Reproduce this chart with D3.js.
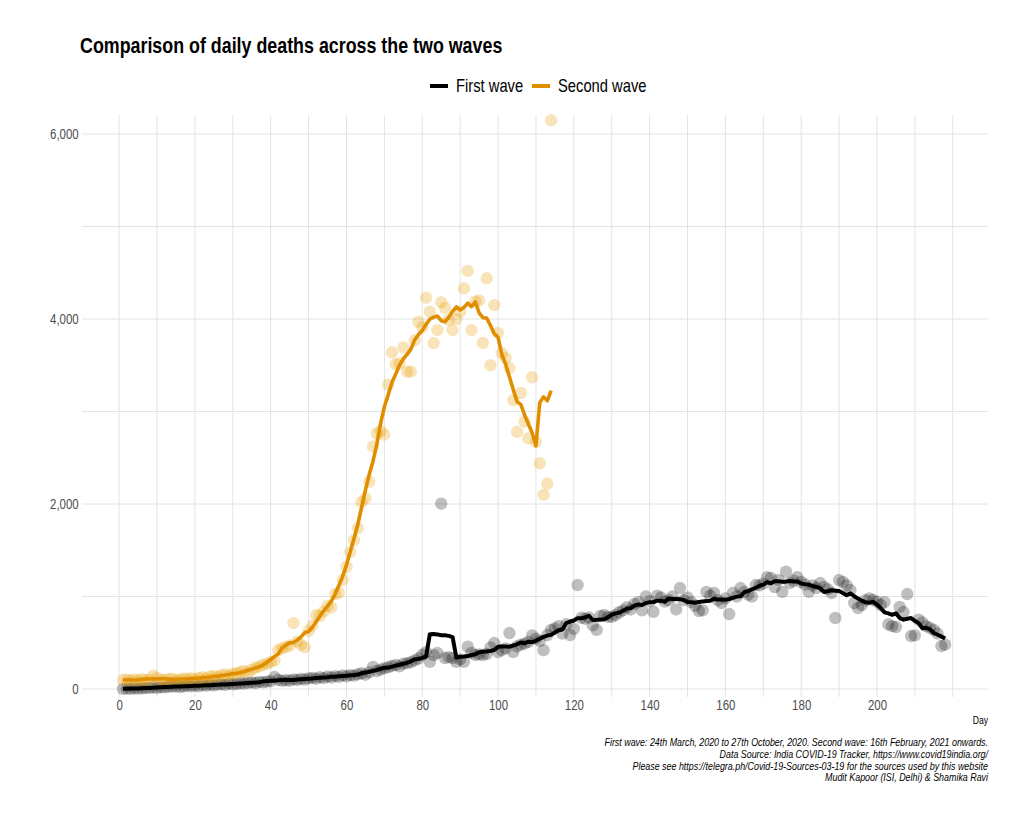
<!DOCTYPE html>
<html lang="en">
  <head>
    <meta charset="utf-8">
    <title>Comparison of daily deaths across the two waves</title>
    <script src="https://d3js.org/d3.v7.js"></script>
    <style>
      body { margin: 0; background: #fff; }
      svg text { font-family: "Liberation Sans", Arial, sans-serif; }
    </style>
  </head>

  <body>
    <svg></svg>

  <script>

// Data: daily deaths, day 1 = start of each wave

  const firstWave = [
    2, 4, 3, 6, 5, 8, 10, 13, 17, 12,
    20, 18, 24, 27, 30, 22, 28, 35, 31, 38,
    30, 42, 36, 45, 40, 48, 52, 44, 58, 50,
    55, 62, 60, 68, 72, 65, 78, 73, 80, 85,
    130, 100, 88, 95, 90, 105, 98, 110, 103, 115,
    120, 112, 128, 118, 135, 125, 140, 132, 148, 138,
    150, 145, 160, 170, 155, 180, 240, 195, 210, 225,
    235, 250, 260, 245, 275, 280, 290, 310, 330, 370,
    400, 295, 367, 390, 2003, 335, 345, 335, 295, 320,
    295, 458, 390, 367, 375, 367, 380, 450, 497, 400,
    420, 440, 605, 400, 460, 480, 490, 510, 580, 545,
    520, 420, 584, 640, 656, 680, 600, 700, 584, 650,
    1124, 770, 760, 775, 690, 640, 790, 800, 780, 780,
    800, 830, 850, 885, 860, 920, 940, 850, 1000, 950,
    835, 1010, 990, 945, 960, 1000, 860, 1092, 960, 990,
    940, 900, 843, 850, 1050, 1010, 1040, 960, 930, 980,
    811, 1040, 1000, 1092, 1050, 1020, 1000, 1124, 1120, 1140,
    1210, 1200, 1103, 1180, 1050, 1268, 1146, 1170, 1210, 1157,
    1130, 1050, 1120, 1092, 1146, 1103, 1080, 1038, 768, 1178,
    1157, 1120, 1070, 930, 876, 908, 960, 980, 962, 944,
    908, 940, 700, 680, 670, 887, 832, 1027, 573, 580,
    750, 720, 680, 660, 640, 600, 465, 480
  ];

  const secondWave = [
    97, 102, 92, 105, 89, 110, 95, 101, 145, 120,
    100, 95, 108, 112, 96, 103, 115, 110, 118, 105,
    120, 128, 115, 135, 140, 130, 150, 158, 145, 165,
    170, 185, 195, 180, 210, 230, 245, 260, 275, 290,
    310, 420, 440, 455, 470, 713, 515, 480, 450, 630,
    685, 800, 790, 840, 900, 880, 1027, 1040, 1180, 1320,
    1480, 1610, 1740, 2020, 2060, 2240, 2620, 2760, 2790, 2750,
    3290, 3640, 3510, 3520, 3690, 3430, 3430, 3770, 3970, 3910,
    4230, 4080, 3740, 3880, 4180, 4120, 3990, 3880, 4000, 4080,
    4330, 4520, 3880, 4190, 4200, 3740, 4440, 3500, 4150, 3850,
    3630, 3580, 3470, 3120, 2780, 3200, 2890, 2710, 3370, 2670,
    2440, 2100, 2220, 6148
  ];

  const seriesNames = ["First wave", "Second wave"];
  const seriesColors = ["#000000", "#E08E00"];

  const xTicks = [0, 20, 40, 60, 80, 100, 120, 140, 160, 180, 200];
  const xGrid = [0, 10, 20, 30, 40, 50, 60, 70, 80, 90, 100, 110, 120, 130, 140, 150, 160, 170, 180, 190, 200, 210, 220];
  const yTicks = [0, 2000, 4000, 6000];
  const yGrid = [0, 1000, 2000, 3000, 4000, 5000, 6000];

  const captionLines = [
    "First wave: 24th March, 2020 to 27th October, 2020. Second wave: 16th February, 2021 onwards.",
    "Data Source: India COVID-19 Tracker, https://www.covid19india.org/",
    "Please see https://telegra.ph/Covid-19-Sources-03-19 for the sources used by this website",
    "Mudit Kapoor (ISI, Delhi) & Shamika Ravi"
  ];

// Size and panel

  const w = 1024;
  const h = 818;
  const panel = {left: 82, right: 988, top: 115, bottom: 697};
  const narrow = 0.82;   // squeeze Liberation Sans to look like a narrow face

  const svg = d3.select("svg")
      .attr("width", w)
      .attr("height", h);

  const xScale = d3.scaleLinear()
      .domain([-9.8, 229.3])
      .range([panel.left, panel.right]);

  const yScale = d3.scaleLinear()
      .domain([-86, 6205])
      .range([panel.bottom, panel.top]);

  function addText(parent, x, y, str, size, sx = narrow) {
    return parent.append("text")
        .attr("transform", `translate(${x}, ${y}) scale(${sx}, 1)`)
        .style("font-size", size + "px")
        .text(str);
  }

// centred 7-day average (shorter window at the ends), as in the chart

  function rolling7(values) {
    return values.map((v, i) => ({
      day: i + 1,
      value: d3.mean(values.slice(Math.max(0, i - 3), i + 4))
    }));
  }

  const points = [firstWave, secondWave].map(vals =>
      vals.map((v, i) => ({day: i + 1, value: v})));
  const averages = [firstWave, secondWave].map(rolling7);

// grid

  const grid = svg.append("g").attr("class", "grid");

  grid.selectAll("line.v")
      .data(xGrid)
    .enter().append("line")
      .attr("class", "v")
      .attr("x1", d => xScale(d))
      .attr("x2", d => xScale(d))
      .attr("y1", panel.top)
      .attr("y2", panel.bottom)
      .attr("stroke", "#e3e3e3")
      .attr("stroke-width", 1);

  grid.selectAll("line.h")
      .data(yGrid)
    .enter().append("line")
      .attr("class", "h")
      .attr("x1", panel.left)
      .attr("x2", panel.right)
      .attr("y1", d => yScale(d))
      .attr("y2", d => yScale(d))
      .attr("stroke", "#e3e3e3")
      .attr("stroke-width", 1);

// points

  points.forEach((pts, k) => {
    svg.append("g")
        .selectAll("circle")
        .data(pts)
      .enter().append("circle")
        .attr("cx", d => xScale(d.day))
        .attr("cy", d => yScale(d.value))
        .attr("r", 6.2)
        .attr("fill", k === 0 ? "#000" : "#E69F00")
        .attr("fill-opacity", k === 0 ? 0.25 : 0.28);
  });

// average lines

  const line = d3.line()
      .x(d => xScale(d.day))
      .y(d => yScale(d.value));

  averages.forEach((avg, k) => {
    svg.append("path")
        .datum(avg)
        .attr("d", line)
        .attr("fill", "none")
        .attr("stroke", seriesColors[k])
        .attr("stroke-width", k === 0 ? 4 : 3.6)
        .attr("stroke-linejoin", "round");
  });

// axes

  const xAxis = d3.axisBottom(xScale)
      .tickValues(xTicks)
      .tickSize(0)
      .tickPadding(3);

  const yAxis = d3.axisLeft(yScale)
      .tickValues(yTicks)
      .tickFormat(d3.format(","))
      .tickSize(0)
      .tickPadding(4);

  const gx = svg.append("g")
      .attr("transform", `translate(0, ${panel.bottom})`)
      .call(xAxis);

  const gy = svg.append("g")
      .attr("transform", `translate(${panel.left}, 0)`)
      .call(yAxis);

  [gx, gy].forEach(g => {
    g.select(".domain").remove();
    g.selectAll("text")
        .attr("fill", "#4d4d4d")
        .attr("transform", `scale(${narrow}, 1)`)
        .style("font-size", "14px");
  });

  addText(svg, panel.right, 724, "Day", 10.5)
      .attr("text-anchor", "end");

// title

  addText(svg, 80, 53, "Comparison of daily deaths across the two waves", 21.5, 0.83)
      .style("font-weight", "bold");

// legend

  const legendX = [430, 532];
  const legend = svg.append("g");

  seriesNames.forEach((name, k) => {
    legend.append("line")
        .attr("x1", legendX[k])
        .attr("x2", legendX[k] + 18)
        .attr("y1", 86)
        .attr("y2", 86)
        .attr("stroke", seriesColors[k])
        .attr("stroke-width", 4);
    addText(legend, legendX[k] + 26, 92, name, 18);
  });

// caption

  captionLines.forEach((str, i) => {
    addText(svg, panel.right, 746 + i * 11.8, str, 10.85)
        .attr("text-anchor", "end")
        .style("font-style", "italic");
  });

    </script>

  </body>

</html>
